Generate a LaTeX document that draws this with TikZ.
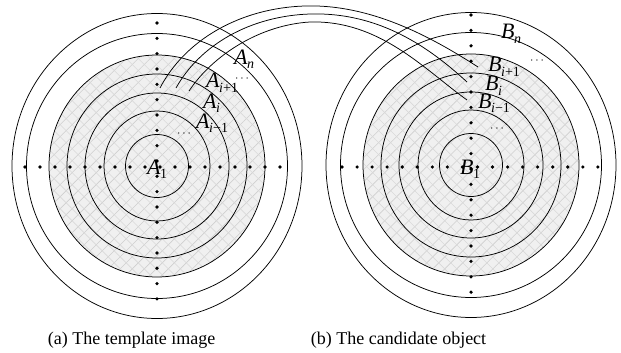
\documentclass[tikz,border=0pt]{standalone}
\usepackage{fontspec}
\setmainfont{Liberation Serif}
\usetikzlibrary{patterns.meta}
\newcommand{\lbl}[2]{\textit{#1}\kern-0.5pt\raisebox{-0.22em}{\fontsize{14}{14}\selectfont #2}}
\tikzset{
  ring/.style={draw=black, line width=0.75pt},
  hatchfill/.style={fill=gray!12},
  hatchA/.style={pattern={Lines[angle=45,distance=8.5pt,line width=0.6pt]}, pattern color=gray!38},
  hatchB/.style={pattern={Lines[angle=-45,distance=8.5pt,line width=0.6pt]}, pattern color=gray!30},
  dotmark/.style={fill=black},
  link/.style={draw=black, line width=0.75pt},
  lab/.style={anchor=base west, inner sep=0pt, font=\fontsize{22}{22}\selectfont},
  ell/.style={inner sep=0pt, font=\fontsize{13}{13}\selectfont},
  captext/.style={inner sep=0pt, font=\fontsize{18}{18}\selectfont}
}
\begin{document}
\begin{tikzpicture}[x=1pt,y=-1pt]
\useasboundingbox (0,0) rectangle (621,353);
\fill[white] (0,0) rectangle (621,353);
\coordinate (cl) at (157,166);
\coordinate (cr) at (471,165);
% shaded discs
\foreach \c in {cl,cr}{
  \fill[hatchfill] (\c) ellipse [x radius=108pt, y radius=111pt];
  \fill[hatchA] (\c) ellipse [x radius=108pt, y radius=111pt];
  \fill[hatchB] (\c) ellipse [x radius=108pt, y radius=111pt];
  \foreach \rx/\ry in {31.5/31.5,53/55,72/73,90/92,108/111,130.5/132.5,145/152.5}
    \draw[ring] (\c) ellipse [x radius=\rx pt, y radius=\ry pt];
}
% dots
\foreach \k in {0,...,18} \fill[dotmark] (157,{23+15.33*\k}) circle (1.8pt);
\foreach \k in {0,...,17} \fill[dotmark] ({25+15*\k},167) circle (1.8pt);
\foreach \k in {0,...,18} \fill[dotmark] (471,{15+15.4*\k}) circle (1.8pt);
\foreach \k in {0,...,17} \fill[dotmark] ({342+15.05*\k},167) circle (1.8pt);
% connector ends
\coordinate (a1) at (160,88);
\coordinate (a2) at (176,88);
\coordinate (a3) at (189,91);
\coordinate (b1) at (478,67);
\coordinate (b2) at (467,82);
\coordinate (b3) at (467,100);
\draw[link] (a1) .. controls (185,40) and (240,8) .. (305,6) .. controls (370,4) and (430,36) .. (b1);
\draw[link] (a2) .. controls (200,45) and (250,16) .. (310,14) .. controls (380,12) and (430,48) .. (b2);
\draw[link] (a3) .. controls (213,55) and (260,25) .. (310,22) .. controls (380,20) and (425,70) .. (b3);
% labels left
\node[lab] (An) at (234,64) {\lbl{A}{\textit{n}}};
\node[ell] (ad1) at (242,79) {$\cdots$};
\node[lab] (Aip) at (206,88) {\lbl{A}{\textit{i}+1}};
\node[lab] (Ai) at (203,108) {\lbl{A}{\textit{i}}};
\node[lab] (Aim) at (196,128) {\lbl{A}{\textit{i}−1}};
\node[ell] (ad2) at (184,134) {$\cdots$};
\node[lab] (A1) at (147,174) {\lbl{A}{1}};
% labels right
\node[lab] (Bn) at (501,39) {\lbl{B}{\textit{n}}};
\node[ell] (bd1) at (537,61) {$\cdots$};
\node[lab] (Bip) at (488,72) {\lbl{B}{\textit{i}+1}};
\node[lab] (Bi) at (485,91) {\lbl{B}{\textit{i}}};
\node[lab] (Bim) at (478,108) {\lbl{B}{\textit{i}−1}};
\node[ell] (bd2) at (497,129) {$\cdots$};
\node[lab] (B1) at (460,174) {\lbl{B}{1}};
% captions
\node[captext] (capa) at (131.5,340) {(a) The template image};
\node[captext] (capb) at (398.5,340) {(b) The candidate object};
\end{tikzpicture}
\end{document}
